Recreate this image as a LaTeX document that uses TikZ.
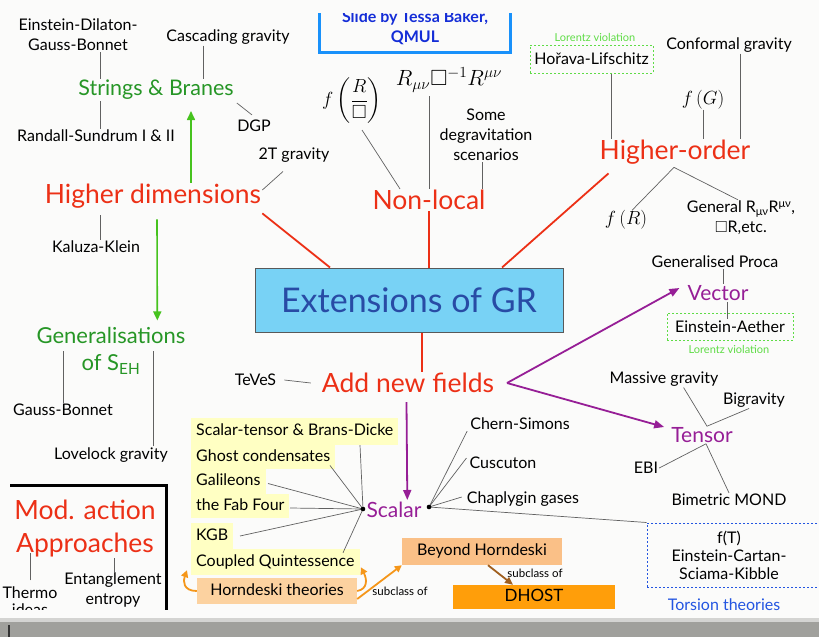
\RequirePackage{fix-cm}
\documentclass[tikz,border=0pt]{standalone}
\usepackage{amsmath,amssymb}
\usepackage{fontspec}
\setmainfont{Lato}
\usetikzlibrary{arrows.meta,calc}
\definecolor{bgc}{RGB}{251,251,250}
\definecolor{redT}{RGB}{236,48,22}
\definecolor{greenT}{RGB}{38,150,38}
\definecolor{greenA}{RGB}{70,195,30}
\definecolor{lvG}{RGB}{95,220,70}
\definecolor{purT}{RGB}{150,30,150}
\definecolor{extF}{RGB}{120,210,245}
\definecolor{extT}{RGB}{40,75,165}
\definecolor{slideB}{RGB}{25,145,250}
\definecolor{slideT}{RGB}{20,45,215}
\definecolor{yelF}{RGB}{255,255,195}
\definecolor{horF}{RGB}{252,210,160}
\definecolor{bhF}{RGB}{250,192,135}
\definecolor{dhF}{RGB}{255,158,10}
\definecolor{oA}{RGB}{245,150,25}
\definecolor{brA}{RGB}{160,95,30}
\definecolor{torB}{RGB}{35,85,225}
\definecolor{barG}{RGB}{160,160,156}
\tikzset{
  lbl/.style={font=\fontsize{16}{20}\selectfont, align=center, inner sep=1pt},
  smallg/.style={font=\fontsize{11}{13}\selectfont, text=lvG, inner sep=1pt},
  smallb/.style={font=\fontsize{11.5}{13}\selectfont, inner sep=1pt},
  redt/.style={font=\fontsize{26.5}{33}\selectfont, text=redT, align=center, inner sep=1pt},
  greent/.style={font=\fontsize{21.5}{26}\selectfont, text=greenT, align=center, inner sep=1pt},
  purt/.style={font=\fontsize{21}{26}\selectfont, text=purT, inner sep=1pt},
  mathl/.style={font=\fontsize{19}{22}\selectfont, inner sep=0pt},
  conn/.style={draw=black!62, line width=0.7pt},
  redline/.style={draw=redT, line width=1.8pt},
  garrow/.style={draw=greenA, line width=1.6pt, -{Triangle[length=9pt,width=8pt]}},
  parrow/.style={draw=purT, line width=1.8pt, -{Triangle[length=10pt,width=8pt]}},
  oarrow/.style={draw=oA, line width=1.8pt, -{Triangle[length=7pt,width=7pt]}},
  brarrow/.style={draw=brA, line width=1.8pt, -{Triangle[length=8pt,width=7pt]}},
  dashg/.style={draw=lvG, line width=1pt, dash pattern=on 2pt off 2pt},
  yrow/.style={fill=yelF, font=\fontsize{16}{20}\selectfont, anchor=west, inner xsep=5pt, inner ysep=0pt, text height=11.5pt, text depth=3.5pt},
  obox/.style={font=\fontsize{16}{20}\selectfont, inner sep=0pt, text height=11.5pt, text depth=3.5pt},
}
\begin{document}
\begin{tikzpicture}[x=1pt,y=-1pt]
\useasboundingbox (0,0) rectangle (819,637);
\fill[bgc] (0,0) rectangle (819,637);

% slide credit box
\node[draw=slideB, line width=3pt, minimum width=191, minimum height=48, inner sep=0pt,
      font=\bfseries\fontsize{16}{20}\selectfont, text=slideT, align=center] (slide) at (415,28) {Slide by Tessa Baker,\\QMUL};
\fill[bgc] (0,0) rectangle (819,13);

% central box
\node[draw=black!65, line width=1pt, fill=extF, minimum width=308, minimum height=64, inner sep=0pt,
      font=\fontsize{34}{40}\selectfont, text=extT] (ext) at (409,300) {Extensions of GR};

% ---------- Higher dimensions branch
\node[lbl] (edgb) at (78,35) {Einstein-Dilaton-\\Gauss-Bonnet};
\node[lbl] (cas) at (228,37) {Cascading gravity};
\node[greent] (sb) at (156,90) {Strings \& Branes};
\node[lbl] (rs) at (96,136) {Randall-Sundrum I \& II};
\node[lbl] (dgp) at (254,126) {DGP};
\node[lbl] (tt) at (294,155) {2T gravity};
\node[redt] (hd) at (153,196) {Higher dimensions};
\node[lbl] (kk) at (96,247) {Kaluza-Klein};
\node[greent, font=\fontsize{22}{27}\selectfont] (gen) at (111,351) {Generalisations\\of S\textsubscript{EH}};
\node[lbl] (gb) at (63,410) {Gauss-Bonnet};
\node[lbl] (lg) at (111,455) {Lovelock gravity};

\draw[conn] ([xshift=22]edgb.south) -- ([xshift=22]edgb.south |- sb.north);
\draw[conn] ([xshift=4]rs.north) -- ([xshift=4]rs.north |- sb.south);
\draw[conn] ([xshift=-25]cas.south) -- ([xshift=-25]cas.south |- sb.north);
\draw[conn] ($(sb.south east)+(2,2)$) -- ($(dgp.north)+(-2,-4)$);
\draw[conn] ($(tt.south)+(-11,8)$) -- ($(hd.east)+(0,-6)$);
\draw[garrow] ([xshift=38]hd.north) -- ($(hd.north |- sb.south)+(38,10)$);
\draw[conn] ($(hd.south)+(-53,6)$) -- ([xshift=4]kk.north);
\draw[garrow] ($(hd.south)+(4,10)$) -- ($(hd.south |- gen.north)+(4.3,-6)$);
\draw[conn] (gb.north) -- (gb.north |- gen.west);
\draw[conn] ([xshift=42]lg.north) -- ([xshift=42]lg.north |- gen.west);

% ---------- Non-local branch
\node[mathl] (frac) at (352,101) {$f\left(\dfrac{R}{\square}\right)$};
\node[mathl, font=\fontsize{22}{26}\selectfont] (rmn) at (449,80) {$R_{\mu\nu}\square^{-1}R^{\mu\nu}$};
\node[lbl] (deg) at (486,135) {Some\\degravitation\\scenarios};
\node[redt] (nl) at (429,200) {Non-local};
\draw[conn] ($(frac.south)+(10,6)$) -- ([xshift=-29]nl.north);
\draw[conn] ($(rmn.south)+(-20,4)$) -- ([xshift=-20]rmn.south |- nl.north);
\draw[conn] ([xshift=-4]deg.south) -- ([xshift=-4]deg.south |- nl.north);

% ---------- Higher-order branch
\node[smallg] (lv1) at (595,37) {Lorentz violation};
\node[dashg, minimum width=123, minimum height=28, inner sep=0pt, font=\fontsize{16}{20}\selectfont] (hl) at (591.5,59) {Hořava-Lifschitz};
\node[lbl] (cg) at (729,45) {Conformal gravity};
\node[mathl] (fG) at (703,100) {$f\,(G)$};
\node[redt] (ho) at (675,152) {Higher-order};
\node[mathl] (fR) at (626,220) {$f\,(R)$};
\node[lbl] (gen2) at (741,218) {General R\textsubscript{μν}R\textsuperscript{μν},\\$\square$R,etc.};
\draw[conn] ([xshift=20]hl.south) -- ([xshift=20]hl.south |- ho.north);
\draw[conn] ([xshift=11]cg.south) -- ([xshift=11]cg.south |- ho.north);
\draw[conn] (fG.south) -- (fG.south |- ho.north);
\draw[conn] ($(ho.south)+(-1,2)$) -- ([xshift=6]fR.north);
\draw[conn] ($(ho.south)+(-1,2)$) -- ([xshift=-3]gen2.north);

% red connectors to the central box
\draw[redline] ($(hd.south east)+(0,4)$) -- ([xshift=-79]ext.north);
\draw[redline] (nl.south) -- (nl.south |- ext.north);
\draw[redline] ($(ho.south west)+(10,8)$) -- ([xshift=93]ext.north);

% ---------- Add new fields
\node[redt] (anf) at (408,383) {Add new fields};
\node[lbl] (teves) at (255.5,380) {TeVeS};
\draw[redline] ([xshift=14]anf.north) -- ([xshift=14]anf.north |- ext.south);
\draw[conn] ([xshift=7]teves.east) -- ([xshift=-10]anf.west);

% Vector
\node[lbl] (gp) at (715,262) {Generalised Proca};
\node[purt] (vec) at (718,293) {Vector};
\node[dashg, minimum width=126, minimum height=27, inner sep=0pt, font=\fontsize{16}{20}\selectfont] (ea) at (730,326.5) {Einstein-Aether};
\node[smallg] (lv2) at (729,349) {Lorentz violation};
\draw[conn] ([xshift=8]gp.south) -- ([xshift=8]gp.south |- vec.north);
\draw[conn] ([xshift=9]vec.south) -- ($([xshift=9]vec.south |- ea.north)+(0,6)$);

% Tensor
\node[purt] (ten) at (702,435) {Tensor};
\node[lbl] (mg) at (664,379) {Massive gravity};
\node[lbl] (bg) at (754,400) {Bigravity};
\node[lbl] (ebi) at (646,468) {EBI};
\node[lbl] (bmo) at (729,500) {Bimetric MOND};
\draw[conn] ([xshift=-36]mg.south east) -- ([xshift=5]ten.north) -- ([xshift=-5]bg.south);
\draw[conn] (ebi.east) -- ([xshift=4]ten.south) -- (bmo.north);

% purple arrows
\coordinate (pj) at (507,383);
\draw[parrow] (pj) -- ($(vec.west)+(-7,-5)$);
\draw[parrow] (pj) -- ($(ten.west)+(-6,-8)$);

% Scalar
\node[purt] (sc) at (394,510) {Scalar};
\coordinate (sL) at (363,509);
\coordinate (sR) at (429,507);
\draw[parrow] ($(anf.south)+(-1.5,8)$) -- ($(sc.north)+(13.3,-1)$);

\node[yrow, minimum height=27] (st) at (191,431.5) {Scalar-tensor \& Brans-Dicke};
\node[yrow, minimum height=24.5] (gc) at (191,457) {Ghost condensates};
\node[yrow, minimum height=25] (gal) at (191,481.5) {Galileons};
\node[yrow, minimum height=24.5] (ff) at (191,506) {the Fab Four};
\node[yrow, minimum height=26] (kgb) at (191,536) {KGB};
\node[yrow, minimum height=26] (cq) at (191,562) {Coupled Quintessence};

\draw[conn] ([xshift=169]st.south west) -- (sL);
\draw[conn] ($(gc.south west)+(139,-4)$) -- (sL);
\draw[conn] ($(gal.west)+(77,2)$) -- (sL);
\draw[conn] ($(ff.west)+(99,2)$) -- (sL);
\draw[conn] ([xshift=49]kgb.west) -- (sL);
\draw[conn] ($(cq.north west)+(152,4)$) -- (sL);
\fill (sL) circle (2.3);

\node[lbl] (cs) at (520,424) {Chern-Simons};
\node[lbl] (cu) at (503,463) {Cuscuton};
\node[lbl] (ch) at (523,499) {Chaplygin gases};
\node[draw=torB, line width=1pt, dash pattern=on 2pt off 2pt, minimum width=183, minimum height=64, inner sep=0pt] (tor) at (738.5,555) {};
\node[lbl, font=\fontsize{16}{18}\selectfont] (tortxt) at (729,555) {f(T)\\Einstein-Cartan-\\Sciama-Kibble};
\node[lbl, text=torB] (torth) at (724,605) {Torsion theories};
\draw[conn] (sR) -- ([xshift=-2]cs.south west);
\draw[conn] (sR) -- ($(cu.west)+(-2,-5)$);
\draw[conn] (sR) -- ($(ch.west)+(-4,-2)$);
\draw[conn] (sR) -- (tor.north west);
\fill (sR) circle (2.3);

% Horndeski family
\node[obox, fill=horF, minimum width=160, minimum height=26] (hor) at (277,591) {Horndeski theories};
\node[obox, fill=bhF, minimum width=160, minimum height=27] (bh) at (482,551.5) {Beyond Horndeski};
\node[obox, fill=dhF, minimum width=162, minimum height=24, font=\fontsize{17}{20}\selectfont] (dh) at (534,597) {DHOST};
\node[smallb] (sub1) at (400,591) {subclass of};
\node[smallb] (sub2) at (535,573) {subclass of};
\draw[oarrow] (hor.west) .. controls (183,591) and (183,581) .. ($(cq.south west)+(-4,-5)$);
\draw[oarrow] (hor.east) .. controls (368,589) and (367,579) .. ($(cq.south east)+(1,-8)$);
\draw[oarrow] ($(hor.east)+(0,8)$) -- (bh.south west);
\draw[brarrow] ([xshift=6]bh.south) -- ([xshift=-21]dh.north);

% Mod. action approaches
\draw[line width=3pt] (10,485) -- (166,485) -- (166,610);
\node[redt] (ma) at (85,528.5) {Mod. action\\Approaches};
\node[lbl, font=\fontsize{16}{17}\selectfont] (thermo) at (30,601) {Thermo\\ideas};
\node[lbl] (ent) at (113,590) {Entanglement\\entropy};
\draw[conn] ([yshift=5]thermo.north) -- ([yshift=5]thermo.north |- ma.south);
\draw[conn] ([xshift=1]ent.north) -- ([xshift=1]ent.north |- ma.south);

% bottom strip
\fill[bgc] (0,610) rectangle (170,622);
\fill[barG!45!white] (0,618) rectangle (819,622);
\fill[barG] (0,622) rectangle (819,637);
\draw[black!80, line width=1.2pt] (9,625) -- (9,637);
\end{tikzpicture}
\end{document}
